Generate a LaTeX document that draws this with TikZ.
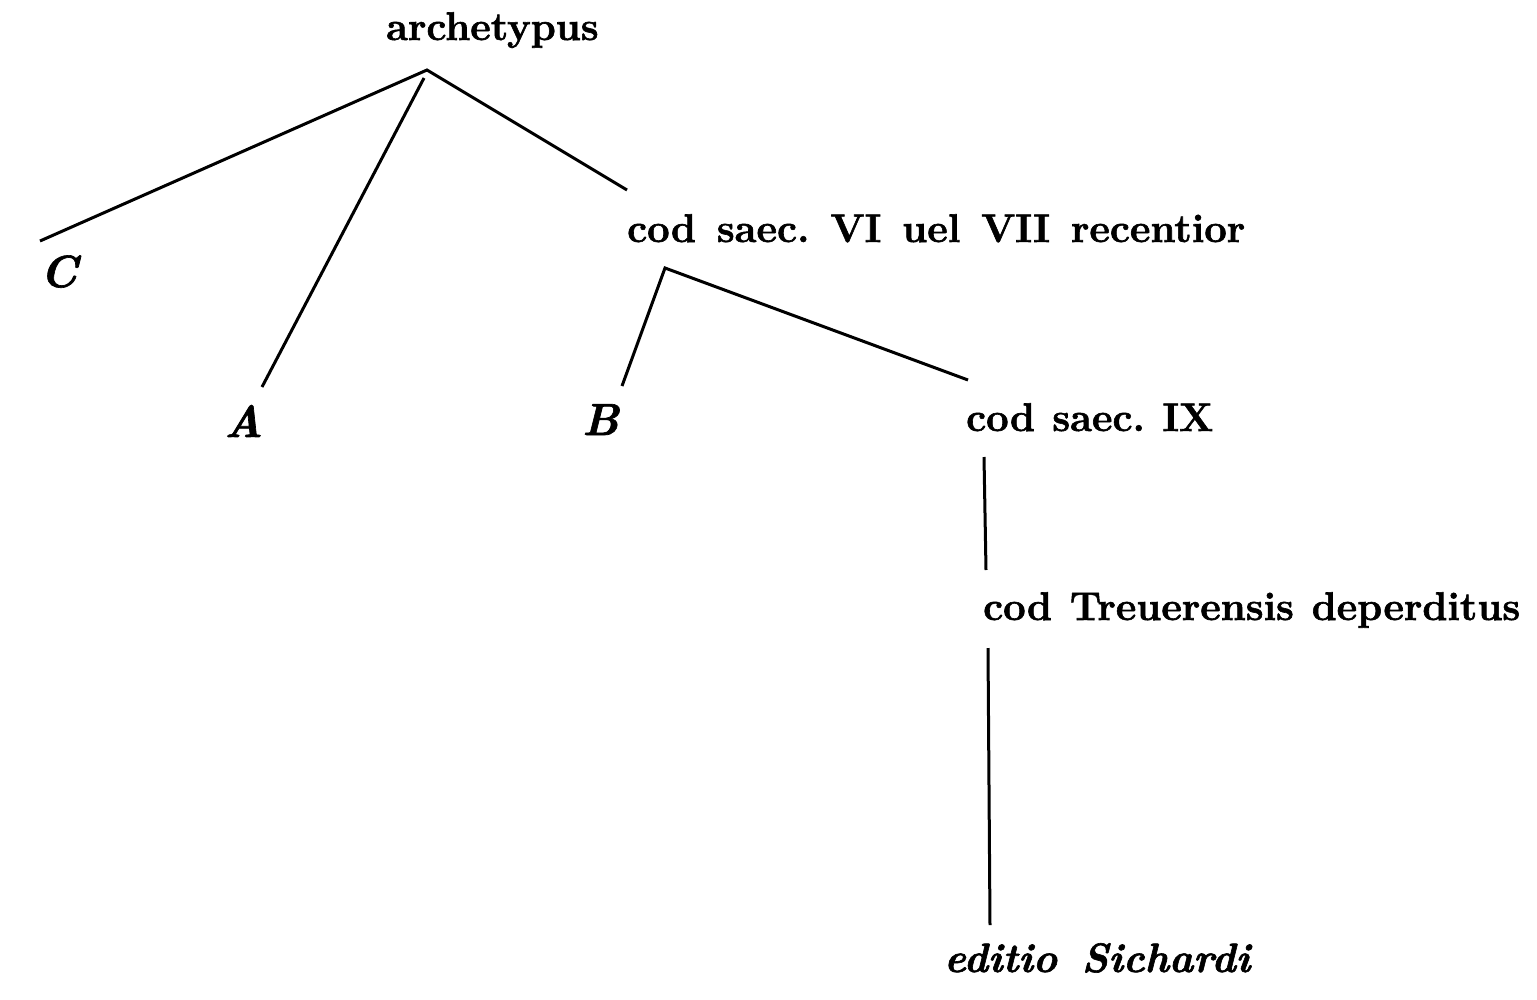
\documentclass[tikz,border=0pt]{standalone}
\usepackage{fontspec}
\setmainfont{Latin Modern Roman}[BoldFeatures={FakeBold=1.5},BoldItalicFeatures={FakeBold=1.5}]
\begin{document}
\frenchspacing
\begin{tikzpicture}[x=1pt,y=-1pt,
  lbl/.style={inner sep=0pt, anchor=base west, font=\fontsize{40}{42}\selectfont\bfseries},
  ilbl/.style={inner sep=0pt, anchor=base west, font=\fontsize{45}{47}\selectfont\bfseries\itshape},
  ilblsmall/.style={inner sep=0pt, anchor=base west, font=\fontsize{41}{43}\selectfont\bfseries\itshape},
  edge/.style={line width=3pt}]
\useasboundingbox (0,0) rectangle (1537,999);
% labels
\node[lbl]  (arch) at (386,40)  {\makebox[208pt][s]{archetypus}};
\node[ilbl] (C)    at (40,287)  {C};
\node[ilbl] (A)    at (224,437) {A};
\node[lbl]  (cod6) at (627,242) {\makebox[618pt][s]{cod saec. VI uel VII recentior}};
\node[ilbl] (B)    at (582,435) {B};
\node[lbl]  (cod9) at (966,431) {\makebox[247pt][s]{cod saec. IX}};
\node[lbl]  (trev) at (983,620) {\makebox[537pt][s]{cod Treuerensis deperditus}};
\node[ilblsmall] (sich) at (944,972) {\makebox[306pt][s]{editio Sichardi}};
% line end points
\coordinate (archApex) at (427,70);
\coordinate (archA)    at (424,78);
\coordinate (Ctop)     at (40,241);
\coordinate (Atop)     at (262,387);
\coordinate (cod6top)  at (627,190);
\coordinate (cod6Apex) at (665,268);
\coordinate (Btop)     at (622,386);
\coordinate (cod9top)  at (968,380);
\coordinate (cod9bot)  at (984,457);
\coordinate (trevtop)  at (986,570);
\coordinate (trevbot)  at (988,648);
\coordinate (sichtop)  at (990,925);
% connectors
\draw[edge] (Ctop) -- (archApex) -- (cod6top);
\draw[edge] (archA) -- (Atop);
\draw[edge] (Btop) -- (cod6Apex) -- (cod9top);
\draw[edge] (cod9bot) -- (trevtop);
\draw[edge] (trevbot) -- (sichtop);
\end{tikzpicture}
\end{document}
